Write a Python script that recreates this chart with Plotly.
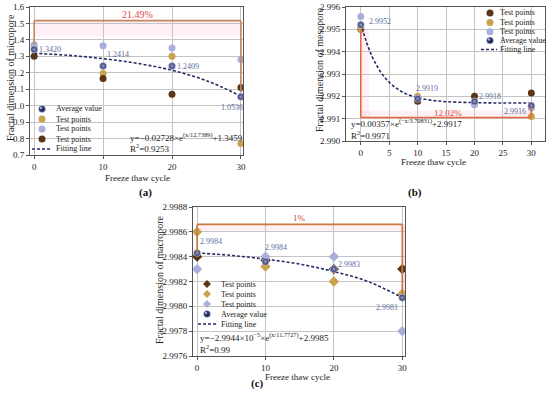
import plotly.graph_objects as go

W, H = 550, 399
FONT = "Liberation Serif"

# ---------------- data ----------------
cycles = [0, 10, 20, 30]

# (a) micropore
a_avg = [1.3420, 1.2414, 1.2409, 1.0536]
a_gold = [1.356, 1.195, 1.300, 0.770]
a_purple = [1.370, 1.365, 1.350, 1.280]
a_brown = [1.300, 1.165, 1.070, 1.110]
a_fit_x = [0, 5, 10, 15, 20, 25, 30]
a_fit_y = [1.319, 1.306, 1.286, 1.257, 1.215, 1.152, 1.058]
a_labels = ["1.3420", "1.2414", "1.2409", "1.0536"]

# (b) mesopore
b_brown = [2.99500, 2.99178, 2.99200, 2.99215]
b_gold = [2.99503, 2.99200, 2.99170, 2.99110]
b_purple = [2.99557, 2.99190, 2.99162, 2.99148]
b_avg = [2.99520, 2.99189, 2.99177, 2.99158]
b_fit_x = [0, 1, 2, 3, 4, 5, 6, 7, 8, 10, 12, 15, 20, 25, 30]
b_fit_y = [2.99527, 2.99443, 2.99378, 2.99329, 2.99291, 2.99263, 2.99241,
           2.99224, 2.99211, 2.99194, 2.99184, 2.99176, 2.99172, 2.99170, 2.99170]
b_labels = ["2.9952", "2.9919", "2.9918", "2.9916"]

# (c) macropore
c_brown = [2.99840, 2.99837, 2.99830, 2.99830]
c_gold = [2.99860, 2.99832, 2.99820, 2.99810]
c_purple = [2.99830, 2.99840, 2.99840, 2.99780]
c_avg = [2.99843, 2.99836, 2.99830, 2.99807]
c_fit_x = [0, 5, 10, 15, 20, 25, 30]
c_fit_y = [2.99843, 2.99841, 2.99838, 2.99834, 2.99828, 2.99820, 2.99807]
c_labels = ["2.9984", "2.9984", "2.9983", "2.9981"]

# ---------------- styles ----------------
NAVY = "#232B63"
GOLD = "#C9A24E"
PURPLE = "#A9AEDD"
BROWN = "#5A3518"
LBL = "#5E6C9E"
GRID = "#C4C4C4"
AXC = "#555555"


def px(x):
    return x / W


def py(y):
    return 1 - y / H


fig = go.Figure()


def add_panel(xa, ya, avg, tests, fit_x, fit_y, symbol):
    for vals, col in tests:
        fig.add_trace(go.Scatter(x=cycles, y=vals, mode="markers", xaxis=xa, yaxis=ya,
                                 showlegend=False,
                                 marker=dict(color=col, size=7 if symbol == "circle" else 8,
                                             symbol=symbol, line=dict(width=0))))
    fig.add_trace(go.Scatter(x=fit_x, y=fit_y, mode="lines", xaxis=xa, yaxis=ya,
                             showlegend=False, line=dict(color=NAVY, width=1.6, dash="3px,2px",
                                                         shape="spline")))
    fig.add_trace(go.Scatter(x=cycles, y=avg, mode="markers", xaxis=xa, yaxis=ya,
                             showlegend=False,
                             marker=dict(color=NAVY, size=7, symbol="circle",
                                         gradient=dict(type="radial", color="#9AA2D0"),
                                         line=dict(width=0.6, color="#DDE0F0"))))


add_panel("x", "y", a_avg, [(a_gold, GOLD), (a_purple, PURPLE), (a_brown, BROWN)],
          a_fit_x, a_fit_y, "circle")
add_panel("x2", "y2", b_avg, [(b_brown, BROWN), (b_gold, GOLD), (b_purple, PURPLE)],
          b_fit_x, b_fit_y, "circle")
add_panel("x3", "y3", c_avg, [(c_brown, BROWN), (c_gold, GOLD), (c_purple, PURPLE)],
          c_fit_x, c_fit_y, "diamond")

tickfont = dict(family=FONT, size=9, color="#222")


def axis(domain, rng, dtick, fmt=None, anchor=None):
    d = dict(domain=domain, range=rng, dtick=dtick, tick0=0, showgrid=True, gridcolor=GRID,
             gridwidth=0.8, showline=True, linecolor=AXC, linewidth=1, mirror=True,
             ticks="outside", ticklen=3, tickcolor=AXC, tickfont=tickfont, zeroline=False,
             anchor=anchor, automargin=False)
    if fmt:
        d["tickformat"] = fmt
    return d


fig.update_layout(
    width=W, height=H, margin=dict(l=0, r=0, t=0, b=0, pad=0, autoexpand=False),
    paper_bgcolor="white", plot_bgcolor="white", showlegend=False,
    font=dict(family=FONT),
    xaxis=axis([px(30), px(243)], [-0.6, 30.3], 10, anchor="y"),
    yaxis=axis([py(155), py(7)], [0.7, 1.6], 0.1, ".1f", anchor="x"),
    xaxis2=axis([px(346), px(545)], [-2.6, 32.4], 5, anchor="y2"),
    yaxis2=axis([py(141), py(7)], [2.990, 2.996], 0.001, ".3f", anchor="x2"),
    xaxis3=axis([px(193), px(405)], [-0.6, 30.4], 10, anchor="y3"),
    yaxis3=axis([py(356), py(207)], [2.9976, 2.9988], 0.0002, ".4f", anchor="x3"),
)

shapes = []
ann = []

# ---- percentage boxes (layout decorations) ----
PINK = "rgba(255,170,200,0.18)"
# (a)
a_box_top, a_box_left_low, a_box_right_low = 1.517, 1.37, 1.08
shapes += [
    dict(type="rect", xref="x", yref="y", x0=0, x1=30, y0=1.42, y1=a_box_top,
         fillcolor=PINK, line=dict(width=0), layer="below"),
    dict(type="line", xref="x", yref="y", x0=0, x1=0, y0=a_box_left_low, y1=a_box_top,
         line=dict(color="#C48560", width=1.6)),
    dict(type="line", xref="x", yref="y", x0=0, x1=30, y0=a_box_top, y1=a_box_top,
         line=dict(color="#C48560", width=1.6)),
    dict(type="line", xref="x", yref="y", x0=30, x1=30, y0=a_box_right_low, y1=a_box_top,
         line=dict(color="#C48560", width=1.6)),
]
ann.append(dict(xref="x", yref="y", x=15, y=1.556, text="21.49%", showarrow=False,
                font=dict(family=FONT, size=10, color="#E04848")))
# (b)
b_box_high, b_box_low, b_box_right = 2.99500, 2.99105, 2.99155
shapes += [
    dict(type="rect", xref="x2", yref="y2", x0=0, x1=30, y0=b_box_low, y1=2.99135,
         fillcolor=PINK, line=dict(width=0), layer="below"),
    dict(type="rect", xref="x2", yref="y2", x0=0, x1=1.5, y0=b_box_low, y1=b_box_high,
         fillcolor=PINK, line=dict(width=0), layer="below"),
    dict(type="line", xref="x2", yref="y2", x0=0, x1=0, y0=b_box_low, y1=b_box_high,
         line=dict(color="#E2683F", width=1.6)),
    dict(type="line", xref="x2", yref="y2", x0=0, x1=30, y0=b_box_low, y1=b_box_low,
         line=dict(color="#E2683F", width=1.6)),
    dict(type="line", xref="x2", yref="y2", x0=30, x1=30, y0=b_box_low, y1=b_box_right,
         line=dict(color="#E2683F", width=1.6)),
]
ann.append(dict(xref="x2", yref="y2", x=15.4, y=2.99124, text="12.02%", showarrow=False,
                font=dict(family=FONT, size=9, color="#E04848")))
# (c)
c_box_top, c_box_left_low, c_box_right_low = 2.99866, 2.99843, 2.99810
shapes += [
    dict(type="rect", xref="x3", yref="y3", x0=0, x1=30, y0=2.99861, y1=c_box_top,
         fillcolor=PINK, line=dict(width=0), layer="below"),
    dict(type="rect", xref="x3", yref="y3", x0=30, x1=30.4, y0=c_box_right_low, y1=c_box_top,
         fillcolor="rgba(255,150,190,0.35)", line=dict(width=0), layer="below"),
    dict(type="line", xref="x3", yref="y3", x0=0, x1=0, y0=c_box_left_low, y1=c_box_top,
         line=dict(color="#C87A3C", width=1.6)),
    dict(type="line", xref="x3", yref="y3", x0=0, x1=30, y0=c_box_top, y1=c_box_top,
         line=dict(color="#C87A3C", width=1.6)),
    dict(type="line", xref="x3", yref="y3", x0=30, x1=30, y0=c_box_right_low, y1=c_box_top,
         line=dict(color="#C87A3C", width=1.6)),
]
ann.append(dict(xref="x3", yref="y3", x=14.9, y=2.99871, text="1%", showarrow=False,
                font=dict(family=FONT, size=9, color="#D04A3A")))

# ---- value labels ----
lblfont = dict(family=FONT, size=8, color=LBL)
a_lbl_pos = [(0.4, 1.344, "left"), (12.1, 1.314, "center"), (20.4, 1.241, "left"), (28.7, 0.99, "center")]
b_lbl_pos = [(1.05, 2.99534, "left"), (11.6, 2.99233, "center"), (20.5, 2.99198, "left"), (27.1, 2.99130, "center")]
c_lbl_pos = [(0.2, 2.99852, "left"), (11.6, 2.99847, "center"), (20.3, 2.99834, "left"), (27.8, 2.99799, "center")]
for (xr, yr), labels, pos in [(("x", "y"), a_labels, a_lbl_pos), (("x2", "y2"), b_labels, b_lbl_pos),
                              (("x3", "y3"), c_labels, c_lbl_pos)]:
    for t, (lx, ly, al) in zip(labels, pos):
        ann.append(dict(xref=xr, yref=yr, x=lx, y=ly, text=t, showarrow=False,
                        xanchor=al, font=lblfont))

# ---- equations ----
eqfont = dict(family=FONT, size=9, color="#222")
eqs = [
    (128, 137, "y=−0.02728×e<sup>(x/12.7389)</sup>+1.3459"),
    (128, 148, "R<sup>2</sup>=0.9253"),
    (349, 123, "y=0.00357×e<sup>(−x/3.70831)</sup>+2.9917"),
    (349, 135, "R<sup>2</sup>=0.9971"),
    (198, 337, "y=−2.9944×10<sup>−5</sup>×e<sup>(x/11.7727)</sup>+2.9985"),
    (198, 349, "R<sup>2</sup>=0.99"),
]
for ex, ey, t in eqs:
    ann.append(dict(xref="paper", yref="paper", x=px(ex), y=py(ey), text=t, showarrow=False,
                    xanchor="left", yanchor="middle", font=eqfont))

# ---- axis titles / panel labels ----
titles = [
    (10, 78, "Fractal dimension of micropore", -90, 10),
    (319, 70, "Fractal dimension of mesopore", -90, 10),
    (159, 280, "Fractal dimension of macropore", -90, 10),
    (137, 178, "Freeze thaw cycle", 0, 9),
    (433, 162, "Freeze thaw cycle", 0, 9),
    (297, 377, "Freeze thaw cycle", 0, 9),
]
for tx, ty, t, ang, sz in titles:
    ann.append(dict(xref="paper", yref="paper", x=px(tx), y=py(ty), text=t, showarrow=False,
                    textangle=ang, xanchor="center", yanchor="middle",
                    font=dict(family=FONT, size=sz, color="#222")))
for tx, ty, t in [(137, 193, "(a)"), (424, 192, "(b)"), (257, 392, "(c)")]:
    ann.append(dict(xref="paper", yref="paper", x=px(tx), y=py(ty), text="<b>" + t + "</b>",
                    showarrow=False, font=dict(family=FONT, size=11, color="#111")))

# ---- custom compact legends ----
legfont = dict(family=FONT, size=8, color="#222")
legends = [
    (42, 54, 32, 52, [109, 119, 129, 139, 149],
     [("avg", "Average value"), (GOLD, "Test points"), (PURPLE, "Test points"),
      (BROWN, "Test points"), ("fit", "Fitting line")], "circle"),
    (490, 498, 481, 497, [13, 22.5, 31.8, 40.5, 49.5],
     [(BROWN, "Test points"), (GOLD, "Test points"), (PURPLE, "Test points"),
      ("avg", "Average value"), ("fit", "Fitting line")], "circle"),
    (207, 219, 198, 217, [284, 294, 304, 314, 324],
     [(BROWN, "Test points"), (GOLD, "Test points"), (PURPLE, "Test points"),
      ("avg", "Average value"), ("fit", "Fitting line")], "diamond"),
]
for mx, tx, lx0, lx1, rows, entries, sym in legends:
    for ry, (kind, text) in zip(rows, entries):
        if kind == "fit":
            shapes.append(dict(type="line", xref="paper", yref="paper", x0=px(lx0), x1=px(lx1),
                               y0=py(ry), y1=py(ry),
                               line=dict(color=NAVY, width=1.6, dash="3px,2px")))
        elif kind == "avg":
            shapes.append(dict(type="circle", xref="paper", yref="paper", xsizemode="pixel",
                               ysizemode="pixel", xanchor=px(mx), yanchor=py(ry),
                               x0=-3.5, x1=3.5, y0=-3.5, y1=3.5, fillcolor=NAVY,
                               line=dict(color="#DDE0F0", width=0.6)))
            shapes.append(dict(type="circle", xref="paper", yref="paper", xsizemode="pixel",
                               ysizemode="pixel", xanchor=px(mx), yanchor=py(ry),
                               x0=-2.2, x1=0.2, y0=-0.2, y1=2.2, fillcolor="#A9B0DA",
                               line=dict(width=0)))
        elif sym == "diamond":
            shapes.append(dict(type="path", xref="paper", yref="paper", xsizemode="pixel",
                               ysizemode="pixel", xanchor=px(mx), yanchor=py(ry),
                               path="M 0 4 L 4 0 L 0 -4 L -4 0 Z", fillcolor=kind,
                               line=dict(width=0)))
        else:
            shapes.append(dict(type="circle", xref="paper", yref="paper", xsizemode="pixel",
                               ysizemode="pixel", xanchor=px(mx), yanchor=py(ry),
                               x0=-3.5, x1=3.5, y0=-3.5, y1=3.5, fillcolor=kind,
                               line=dict(width=0)))
        ann.append(dict(xref="paper", yref="paper", x=px(tx), y=py(ry), text=text,
                        showarrow=False, xanchor="left", yanchor="middle", font=legfont))

fig.update_layout(shapes=shapes, annotations=ann)
fig.write_html("out.html", config={"displayModeBar": False},
               post_script="document.body.style.margin='0';document.body.style.overflow='hidden';")
